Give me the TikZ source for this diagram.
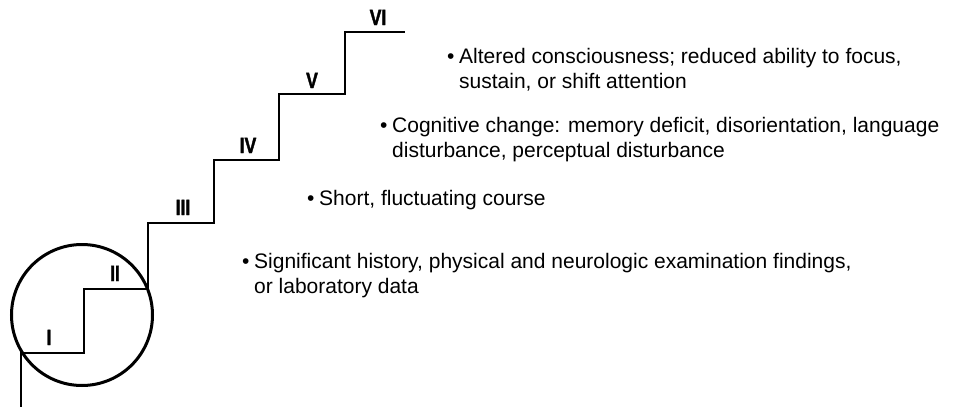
\documentclass[tikz,border=0pt]{standalone}
\usepackage{fontspec}
\setmainfont{Liberation Sans}
\newfontfamily\labelfont[FakeBold=2]{Liberation Sans Bold}
\begin{document}
\begin{tikzpicture}[x=1pt,y=-1pt,
  stair/.style={line width=1.8pt,line join=miter},
  ring/.style={line width=3pt},
  steplabel/.style={anchor=base,inner sep=0pt,xscale=0.8,font=\fontsize{22}{22}\labelfont},
  item/.style={anchor=base west,inner sep=0pt,align=left,font=\fontsize{21}{25}\selectfont}]
\useasboundingbox[fill=white] (0,0) rectangle (954,407);

% corners of the staircase, bottom to top
\coordinate (s0) at (21,407);
\coordinate (s1) at (21,353);
\coordinate (s2) at (84,353);
\coordinate (s3) at (84,289);
\coordinate (s4) at (148,289);
\coordinate (s5) at (148,223);
\coordinate (s6) at (214,223);
\coordinate (s7) at (214,160);
\coordinate (s8) at (279,160);
\coordinate (s9) at (279,94);
\coordinate (s10) at (345,94);
\coordinate (s11) at (345,32);
\coordinate (s12) at (405,32);
\draw[stair] (s0) -- (s1) -- (s2) -- (s3) -- (s4) -- (s5) -- (s6)
  -- (s7) -- (s8) -- (s9) -- (s10) -- (s11) -- (s12);

% circle around the first two steps
\coordinate (c) at (82,315);
\draw[ring] (c) circle[radius=70.5];

% step numbers
\node[steplabel] (l1) at (49,345) {I};
\node[steplabel] (l2) at (115,281) {II};
\node[steplabel] (l3) at (183,215) {III};
\node[steplabel] (l4) at (248,153) {IV};
\node[steplabel] (l5) at (312,88) {V};
\node[steplabel] (l6) at (378,25) {VI};

% criteria (each node is placed at the baseline of its last line)
\newcommand{\bul}{\makebox[12pt][l]{•}}
\newcommand{\ind}{\hspace*{12pt}}
\node[item] (t1) at (447,88) {\bul Altered consciousness; reduced ability to focus,\\\ind sustain, or shift attention};
\node[item] (t2) at (380,157) {\bul Cognitive change: memory deficit, disorientation, language\\\ind disturbance, perceptual disturbance};
\node[item] (t3) at (307,205) {\bul Short, fluctuating course};
\node[item] (t4) at (242,293) {\bul Significant history, physical and neurologic examination findings,\\\ind or laboratory data};
\end{tikzpicture}
\end{document}
